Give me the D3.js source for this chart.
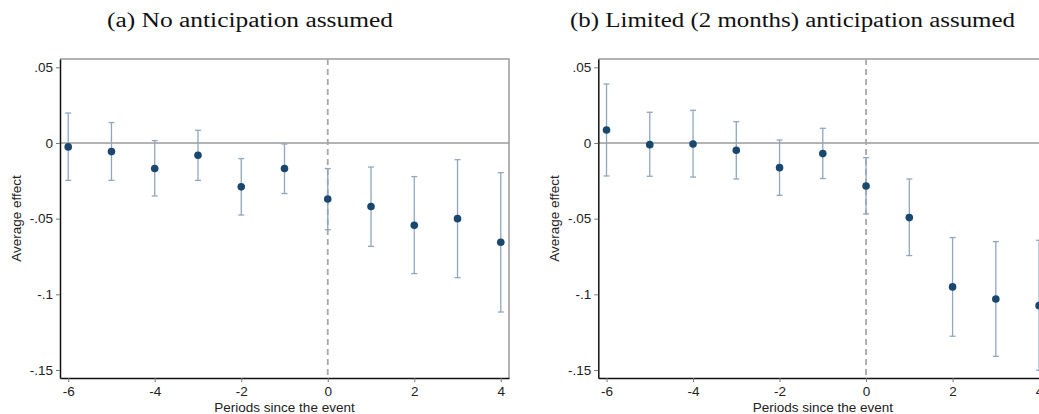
<!DOCTYPE html>
<html>
<head>
<meta charset="utf-8">
<script src="https://cdn.jsdelivr.net/npm/d3@7"></script>
<style>
  body { margin: 0; background: #fff; }
  svg { display: block; }
  .tick text, .axlabel { font-family: "Liberation Sans", Arial, sans-serif; font-size: 13.5px; fill: #222; }
  .title { font-family: "Liberation Serif", "DejaVu Serif", serif; font-size: 20px; fill: #111; }
</style>
</head>
<body>
<svg width="1039" height="414"></svg>
<script>
// periods since the event
const periods = [-6, -5, -4, -3, -2, -1, 0, 1, 2, 3, 4];

// (a) no anticipation
const estA = [-0.0026, -0.0057, -0.0169, -0.0081, -0.0290, -0.0169, -0.0370, -0.0420, -0.0544, -0.0500, -0.0656];
const loA  = [-0.0247, -0.0247, -0.0350, -0.0247, -0.0476, -0.0334, -0.0573, -0.0683, -0.0863, -0.0890, -0.1117];
const hiA  = [0.0198, 0.0135, 0.0016, 0.0084, -0.0103, -0.0007, -0.0169, -0.0159, -0.0222, -0.0110, -0.0196];

// (b) limited anticipation
const estB = [0.0086, -0.0011, -0.0007, -0.0048, -0.0163, -0.0070, -0.0284, -0.0493, -0.0951, -0.1031, -0.1075];
const loB  = [-0.0218, -0.0220, -0.0225, -0.0238, -0.0346, -0.0235, -0.0469, -0.0744, -0.1277, -0.1410, -0.1502];
const hiB  = [0.0390, 0.0203, 0.0216, 0.0141, 0.0020, 0.0097, -0.0097, -0.0238, -0.0625, -0.0652, -0.0643];

const titles = ["(a) No anticipation assumed", "(b) Limited (2 months) anticipation assumed"];
const xTicks = [-6, -4, -2, 0, 2, 4];
const yTicks = [0.05, 0, -0.05, -0.1, -0.15];

const svg = d3.select("svg");
const plotW = 449, plotH = 319, plotTop = 59;
const navy = "#1a476f", ciCol = "#8fa7bf", grey = "#9a9a9a";

// stata style tick labels: .05, -.1 ...
const fmtY = d => d === 0 ? "0" : String(+d.toFixed(2)).replace("0.", ".");

function panel(left, est, lo, hi, title, titleX, titleW, ylabX) {
  const x = d3.scaleLinear().domain([-6.19, 4.19]).range([left, left + plotW]);
  const y = d3.scaleLinear().domain([-0.1553, 0.0555]).range([plotTop + plotH, plotTop]);
  const g = svg.append("g");

  // latex-like caption, stretched to the width of the original
  svg.append("text").attr("class", "title")
    .attr("x", titleX).attr("y", 27)
    .attr("textLength", titleW).attr("lengthAdjust", "spacingAndGlyphs")
    .text(title);

  // top and right frame
  g.append("path")
    .attr("d", `M${left},${plotTop}H${left + plotW}V${plotTop + plotH}`)
    .attr("fill", "none").attr("stroke", grey).attr("stroke-width", 1.5);

  // reference lines
  g.append("line").attr("x1", left).attr("x2", left + plotW)
    .attr("y1", y(0)).attr("y2", y(0))
    .attr("stroke", grey).attr("stroke-width", 1.5);
  g.append("line").attr("x1", x(0)).attr("x2", x(0))
    .attr("y1", plotTop).attr("y2", plotTop + plotH)
    .attr("stroke", "#a8a8a8").attr("stroke-width", 1.8).attr("stroke-dasharray", "6,4");

  // confidence intervals
  const ci = g.append("g").attr("stroke", ciCol).attr("stroke-width", 1.3).attr("fill", "none");
  periods.forEach((p, i) => {
    ci.append("line").attr("x1", x(p)).attr("x2", x(p)).attr("y1", y(lo[i])).attr("y2", y(hi[i]));
    ci.append("line").attr("x1", x(p) - 3).attr("x2", x(p) + 3).attr("y1", y(lo[i])).attr("y2", y(lo[i]));
    ci.append("line").attr("x1", x(p) - 3).attr("x2", x(p) + 3).attr("y1", y(hi[i])).attr("y2", y(hi[i]));
  });

  g.selectAll("circle.pt").data(periods).join("circle")
    .attr("class", "pt")
    .attr("cx", d => x(d)).attr("cy", (d, i) => y(est[i]))
    .attr("r", 3.8).attr("fill", navy);

  // axes
  const ya = g.append("g").attr("transform", `translate(${left},0)`)
    .call(d3.axisLeft(y).tickValues(yTicks).tickFormat(fmtY).tickSize(4).tickPadding(3).tickSizeOuter(0));
  const xa = g.append("g").attr("transform", `translate(0,${plotTop + plotH})`)
    .call(d3.axisBottom(x).tickValues(xTicks).tickFormat(d => String(d)).tickSize(4).tickPadding(4).tickSizeOuter(0));
  [ya, xa].forEach(a => {
    a.attr("font-size", null).attr("font-family", null);
    a.select(".domain").attr("stroke", "#111").attr("stroke-width", 1.5);
    a.selectAll(".tick line").attr("stroke", "#777");
  });

  svg.append("text").attr("class", "axlabel")
    .attr("x", left + plotW / 2).attr("y", 412).attr("text-anchor", "middle")
    .text("Periods since the event");
  svg.append("text").attr("class", "axlabel")
    .attr("transform", `translate(${ylabX},${plotTop + plotH / 2}) rotate(-90)`)
    .attr("text-anchor", "middle").text("Average effect");
}

panel(60, estA, loA, hiA, titles[0], 107, 286, 21);
panel(598.3, estB, loB, hiB, titles[1], 570, 445, 559);
</script>
</body>
</html>
